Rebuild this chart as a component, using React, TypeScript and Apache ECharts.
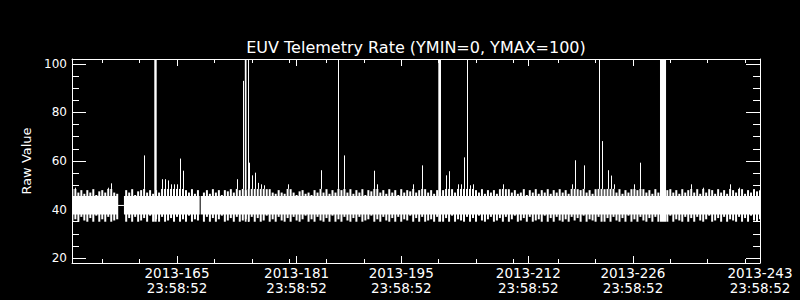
import React, { useEffect, useRef } from "react";
import * as echarts from "echarts";

// ---- axis ranges & ticks ----
const X_MIN = 150.95; // day of year 2013
const X_MAX = 243.0;
const Y_MIN = 18;
const Y_MAX = 102;
const MAJOR_DAYS = [165, 181, 195, 212, 226, 243];
const MAJOR_DATES = ["2013-165", "2013-181", "2013-195", "2013-212", "2013-226", "2013-243"];
const TICK_TIME = "23:58:52";
const MINOR_DAYS = [155, 160, 170, 175, 180, 185, 190, 200, 205, 210, 216, 221, 231, 236, 241];
const Y_MAJOR = [20, 40, 60, 80, 100];
const Y_MINOR = [25, 30, 35, 45, 50, 55, 65, 70, 75, 85, 90, 95];

// ---- data ----
// solid core of the telemetry band: [startDay, endDay, low, high]
const CORE_SEGMENTS: number[][] = [
  [150.95, 157.1, 38, 45.6],
  [157.9, 168.03, 38, 45.6],
  [168.17, 243.0, 38, 45.6],
];
// data gap link
const GAP_LINK: number[][] = [
  [157.1, 41.7],
  [157.9, 41.7],
];
// saturated intervals (values above plot max): [startDay, endDay]
const SATURATED: number[][] = [
  [161.96, 162.28],
  [174.07, 174.3],
  [174.5, 174.62],
  [199.96, 200.32],
  [229.62, 230.43],
];
// per-sample extremes (sample cadence 0.4 day starting at day 151.0)
const SAMPLE_START = 151.0;
const SAMPLE_STEP = 0.4;
const HIGHS: (number | null)[] = [
  53, 49, 47, 48, 46.5, 48, 47, 48.4, 46, 47.5,
  48, 47, 49, 50.8, 47, 46.5, null, null, 48, 47,
  48.4, 46, 47.5, 48, 62.3, 47, 48, 46.5, 48, 47,
  52.5, 52.5, 52, 50.4, 50.4, 50.4, 61, 56, 48, 47,
  48.4, 46.5, 48, null, 47, 48, 46.5, 48.4, 47, 48,
  46, 48, 47.5, 48.4, 47, 52.5, 48, 93, 48, 59.3,
  54.1, 55.2, 51, 50.4, 50, 48.4, 48.4, 47, 46.5, 48,
  47, 46.5, 50.4, 48.4, 47, 46, 47.5, 48, 46.5, 47,
  46, 48, 47, 56.2, 47, 48.4, 46.5, 48, 47, 110,
  48, 62.3, 47, 48.4, 46.5, 48, 47, 48.4, 46, 48,
  47.5, 56, 50.4, 47, 48, 46.5, 48.4, 47, 48, 46,
  48.4, 47, 48, 47.5, 50.4, 47, 48, 58.2, 48.4, 47,
  48, 46.5, 48, 47, 48, 54.1, 55.8, 48.4, 47, 50.4,
  50.4, 61.5, 110, 50, 50.4, 48, 47, 48.4, 46.5, 48,
  47, 48, 46.5, 48.4, 50.4, 48.4, 48.4, 47, 48, 46.5,
  47, 48.4, 46, 48, 47, 48.4, 46.5, 48, 47, 48.4,
  46.5, 48, 47, 48.4, 47, 48, 46.5, 50.4, 60.3, 48.4,
  48, 58.2, 47, 48, 46.5, 48.4, 110, 68.2, 48.4, 56.2,
  54, 50.4, 47, 48.4, 46.5, 48, 47, 48.4, 50.4, 48,
  59.3, 48.4, 47, 48, 46.5, 48.4, 47, 48, 47, 48,
  48.4, 47, 48, 46.5, 48.4, 47, 48, 50.4, 47, 48.4,
  46.5, 49, 47, 48.4, 48, 46.5, 48.4, 47, 48, 46.5,
  50.4, 48, 47, 49, 48.4, 46.5, 48, 47, 48.4, 47.5, 48,
];
const LOWS: (number | null)[] = [
  35, 36, 35, 37, 35.5, 35, 36.5, 35, 37.5, 35,
  36, 35, 37, 35, 35.5, 36, null, null, 35, 36.5,
  35, 37, 35, 35.5, 36.5, 35, 37.5, 35, 36, 35,
  37, 35, 35.5, 36.5, 35, 37, 35, 36, 35, 37.5,
  35, 36, 35.5, null, 35, 37, 35, 36.5, 35, 36,
  37.5, 35, 35.5, 36.5, 35, 37, 35, 35.5, 36, 35,
  37, 35, 36.5, 35, 35.5, 37.5, 35, 36, 35, 37,
  35.5, 35, 36.5, 35, 37, 35.5, 35, 36, 37.5, 35,
  36, 35, 37, 35.5, 35, 36.5, 35, 37.5, 35, 36,
  35, 37, 35.5, 35, 36.5, 35, 37, 35, 35.5, 36,
  37.5, 35, 36, 35, 37, 35.5, 35, 36.5, 35, 37,
  35, 36, 35.5, 37.5, 35, 36.5, 35, 37, 35, 35.5,
  36, 35, 37, 35.5, 35, 36.5, 35, 37.5, 35, 36,
  35.5, 35, 37, 35, 36.5, 35, 37.5, 35.5, 35, 36,
  37, 35, 35.5, 36.5, 35, 37, 35, 36, 37.5, 35,
  35.5, 36.5, 35, 37, 35, 35.5, 36, 35, 37.5, 35,
  36.5, 35, 37, 35.5, 35, 36, 35, 37, 35.5, 36.5,
  35, 37.5, 35, 36, 35.5, 35, 37, 35, 35, 36.5,
  35, 37, 35.5, 35, 36.5, 35, 37.5, 35, 36, 35,
  37, 35.5, 35, 36.5, 35, 37, 35, 35.5, 36, 35,
  37.5, 35, 36, 35.5, 35, 37, 35, 36.5, 35, 37,
  35.5, 35, 36, 37.5, 35, 35.5, 36.5, 35, 37, 35,
  36, 35.5, 35, 37, 35, 36.5, 35, 37.5, 35.5, 35, 36,
];
const COMB_TOP = 48.5; // where the dense comb ends and thin spikes begin

const FONT = "DejaVu Sans";
const WHITE = "#ffffff";

function App() {
  const ref = useRef<HTMLDivElement>(null);
  useEffect(() => {
    if (!ref.current) return;
    const chart = echarts.init(ref.current, null, { renderer: "svg" });

    const samples: number[][] = [];
    HIGHS.forEach((h, i) => {
      const l = LOWS[i];
      if (h == null || l == null) return;
      samples.push([SAMPLE_START + SAMPLE_STEP * i, l, h]);
    });

    const labelFor = (v: number) => {
      const i = MAJOR_DAYS.findIndex((d) => Math.abs(d - v) < 1e-6);
      return i >= 0 ? MAJOR_DATES[i] + "\n" + TICK_TIME : "";
    };

    const xBase = (position: "top" | "bottom", major: boolean, showLine: boolean) => ({
      type: "value",
      min: X_MIN,
      max: X_MAX,
      position,
      gridIndex: 0,
      axisLine: { show: showLine, lineStyle: { color: WHITE, width: 1 } },
      axisTick: {
        show: true,
        inside: true,
        length: major ? 7 : 4,
        customValues: major ? MAJOR_DAYS : MINOR_DAYS,
        lineStyle: { color: WHITE, width: 1 },
      },
      axisLabel: {
        show: major && position === "bottom",
        customValues: MAJOR_DAYS,
        formatter: labelFor,
        color: WHITE,
        fontFamily: FONT,
        fontSize: 13.5,
        lineHeight: 15,
        margin: 2,
        showMinLabel: true,
        showMaxLabel: true,
      },
      splitLine: { show: false },
    });

    const yBase = (position: "left" | "right", major: boolean, showLine: boolean) => ({
      type: "value",
      min: Y_MIN,
      max: Y_MAX,
      position,
      gridIndex: 0,
      axisLine: { show: showLine, lineStyle: { color: WHITE, width: 1 } },
      axisTick: {
        show: true,
        inside: true,
        length: major ? 14 : 7,
        customValues: major ? Y_MAJOR : Y_MINOR,
        lineStyle: { color: WHITE, width: 1 },
      },
      axisLabel: {
        show: major && position === "left",
        customValues: Y_MAJOR,
        color: WHITE,
        fontFamily: FONT,
        fontSize: 12,
        margin: 5,
      },
      splitLine: { show: false },
      ...(major && position === "left"
        ? {
            name: "Raw Value",
            nameLocation: "middle",
            nameGap: 36,
            nameTextStyle: { color: WHITE, fontFamily: FONT, fontSize: 13 },
          }
        : {}),
    });

    chart.setOption({
      animation: false,
      backgroundColor: "#000000",
      grid: { left: 72, top: 59, width: 688, height: 204, containLabel: false },
      graphic: [
        {
          type: "text",
          x: 416,
          y: 39,
          style: {
            text: "EUV Telemetry Rate (YMIN=0, YMAX=100)",
            fill: WHITE,
            font: `16px "${FONT}"`,
            textAlign: "center",
            textVerticalAlign: "top",
          },
        },
      ],
      xAxis: [
        xBase("bottom", true, true),
        xBase("bottom", false, false),
        xBase("top", true, true),
        xBase("top", false, false),
      ],
      yAxis: [
        yBase("left", true, true),
        yBase("left", false, false),
        yBase("right", true, true),
        yBase("right", false, false),
      ],
      series: [
        {
          type: "custom",
          xAxisIndex: 0,
          yAxisIndex: 0,
          clip: true,
          data: CORE_SEGMENTS,
          encode: { x: [0, 1], y: [2, 3] },
          renderItem: (params: any, api: any) => {
            const p1 = api.coord([api.value(0), api.value(3)]);
            const p2 = api.coord([api.value(1), api.value(2)]);
            return {
              type: "rect",
              shape: { x: p1[0], y: p1[1], width: p2[0] - p1[0], height: p2[1] - p1[1] },
              style: { fill: WHITE },
            };
          },
        },
        {
          type: "custom",
          xAxisIndex: 0,
          yAxisIndex: 0,
          clip: true,
          data: samples,
          encode: { x: 0, y: [1, 2] },
          renderItem: (params: any, api: any) => {
            const x = api.value(0);
            const lo = api.value(1);
            const hi = api.value(2);
            const p1 = api.coord([x, lo]);
            const pc = api.coord([x, Math.min(hi, COMB_TOP)]);
            const children: any[] = [
              {
                type: "line",
                shape: { x1: p1[0], y1: p1[1], x2: pc[0], y2: pc[1] },
                style: { stroke: WHITE, lineWidth: 2 },
              },
            ];
            if (hi > COMB_TOP) {
              const p2 = api.coord([x, hi]);
              const sx = Math.round(pc[0]) + 0.5;
              children.push({
                type: "line",
                shape: { x1: sx, y1: pc[1], x2: sx, y2: p2[1] },
                style: { stroke: WHITE, lineWidth: 1 },
              });
            }
            return { type: "group", children };
          },
        },
        {
          type: "custom",
          xAxisIndex: 0,
          yAxisIndex: 0,
          clip: true,
          data: SATURATED,
          encode: { x: [0, 1] },
          renderItem: (params: any, api: any) => {
            const p1 = api.coord([api.value(0), 110]);
            const p2 = api.coord([api.value(1), 35]);
            return {
              type: "rect",
              shape: { x: p1[0], y: p1[1], width: Math.max(1, p2[0] - p1[0]), height: p2[1] - p1[1] },
              style: { fill: WHITE },
            };
          },
        },
        {
          type: "line",
          xAxisIndex: 0,
          yAxisIndex: 0,
          data: GAP_LINK,
          symbol: "none",
          lineStyle: { color: WHITE, width: 1 },
        },
      ],
    });
    return () => chart.dispose();
  }, []);
  return (
    <div
      ref={ref}
      style={{ position: "absolute", left: 0, top: 0, width: 800, height: 300, background: "#000" }}
    />
  );
}

export default App;
